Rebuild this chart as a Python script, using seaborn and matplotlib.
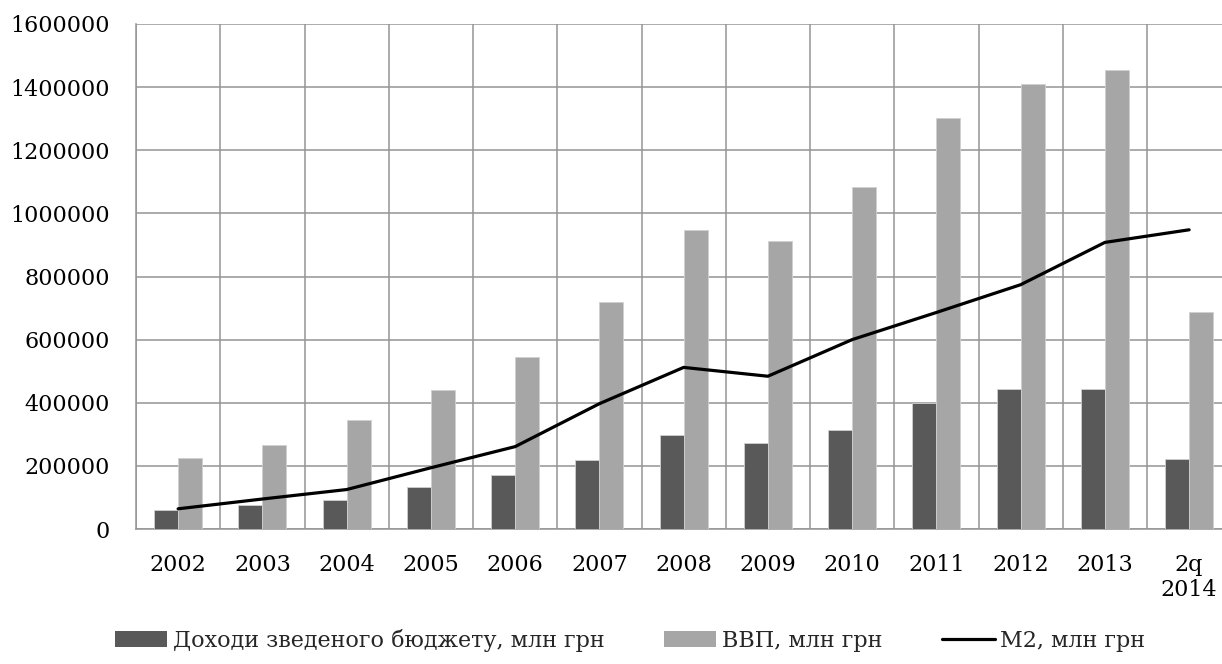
import numpy as np
import pandas as pd
import matplotlib
matplotlib.use("Agg")
import matplotlib.pyplot as plt
from matplotlib.patches import Patch
from matplotlib.lines import Line2D
from matplotlib.ticker import FixedLocator
import seaborn as sns

categories = ["2002", "2003", "2004", "2005", "2006", "2007", "2008",
              "2009", "2010", "2011", "2012", "2013", "2q\n2014"]
budget = [60000, 75000, 92000, 133000, 171000, 219000, 297000,
          272000, 314000, 398000, 445000, 442000, 222000]
gdp = [225000, 267000, 345000, 441000, 544000, 720000, 948000,
       913000, 1083000, 1302000, 1409000, 1455000, 687000]
m2 = [64000, 95000, 125000, 194000, 261000, 397000, 512000,
      484000, 600000, 686000, 774000, 908000, 948000]

s_budget = "Доходи зведеного бюджету, млн грн"
s_gdp = "ВВП, млн грн"
s_m2 = "М2, млн грн"

sns.set_theme(style="white")
plt.rcParams["font.family"] = ["DejaVu Serif"]

df = pd.DataFrame({
    "cat": categories * 2,
    "value": budget + gdp,
    "series": [s_budget] * len(categories) + [s_gdp] * len(categories),
})

c_dark = "#595959"
c_light = "#a6a6a6"
grid_c = "#959595"
fs = 16

fig = plt.figure(figsize=(12.22, 6.64), dpi=100)
ax = fig.add_axes([136 / 1222, 135 / 664, 1086 / 1222, 505 / 664])

sns.barplot(data=df, x="cat", y="value", hue="series", order=categories,
            hue_order=[s_budget, s_gdp], palette=[c_dark, c_light],
            width=0.57, ax=ax, legend=False, edgecolor="#d0d0d0", linewidth=0.6,
            zorder=3)
sns.lineplot(x=np.arange(len(categories)), y=m2, ax=ax, color="black",
             linewidth=2.3, zorder=4)

ax.set_ylim(0, 1600000)
ax.set_xlim(-0.5, -0.5 + 1086 / 84.25)
ax.set_yticks(np.arange(0, 1600001, 200000))
ax.set_yticklabels([str(v) for v in range(0, 1600001, 200000)], fontsize=fs)
ax.set_xticks(np.arange(len(categories)))
ax.set_xticklabels(categories, fontsize=fs, linespacing=1.2)
ax.xaxis.set_minor_locator(FixedLocator(np.arange(-0.5, len(categories) + 0.5, 1)))

ax.tick_params(axis="x", which="major", length=0, pad=18, colors="black")
ax.tick_params(axis="x", which="minor", length=8, width=1.1, color=grid_c, direction="out")
ax.tick_params(axis="y", which="major", length=8, width=1.1, color=grid_c, pad=11,
               direction="out", labelcolor="black")
ax.yaxis.grid(True, which="major", color=grid_c, linewidth=1.1, zorder=0)
ax.xaxis.grid(True, which="minor", color=grid_c, linewidth=1.1, zorder=0)
ax.xaxis.grid(False, which="major")
ax.set_axisbelow(True)
for side in ["top", "right"]:
    ax.spines[side].set_visible(False)
for side in ["left", "bottom"]:
    ax.spines[side].set_color(grid_c)
    ax.spines[side].set_linewidth(1.1)
ax.set_xlabel("")
ax.set_ylabel("")

handles = [Patch(facecolor=c_dark, edgecolor="none"),
           Patch(facecolor=c_light, edgecolor="none"),
           Line2D([0], [0], color="black", linewidth=2.3)]
fig.legend(handles, [s_budget, s_gdp, s_m2], loc="center",
           bbox_to_anchor=(630 / 1222, 24 / 664), ncol=3, frameon=False,
           fontsize=fs, handlelength=2.35, handleheight=0.7, handletextpad=0.25,
           columnspacing=2.7, borderaxespad=0)

fig.savefig("out.png", dpi=100)
